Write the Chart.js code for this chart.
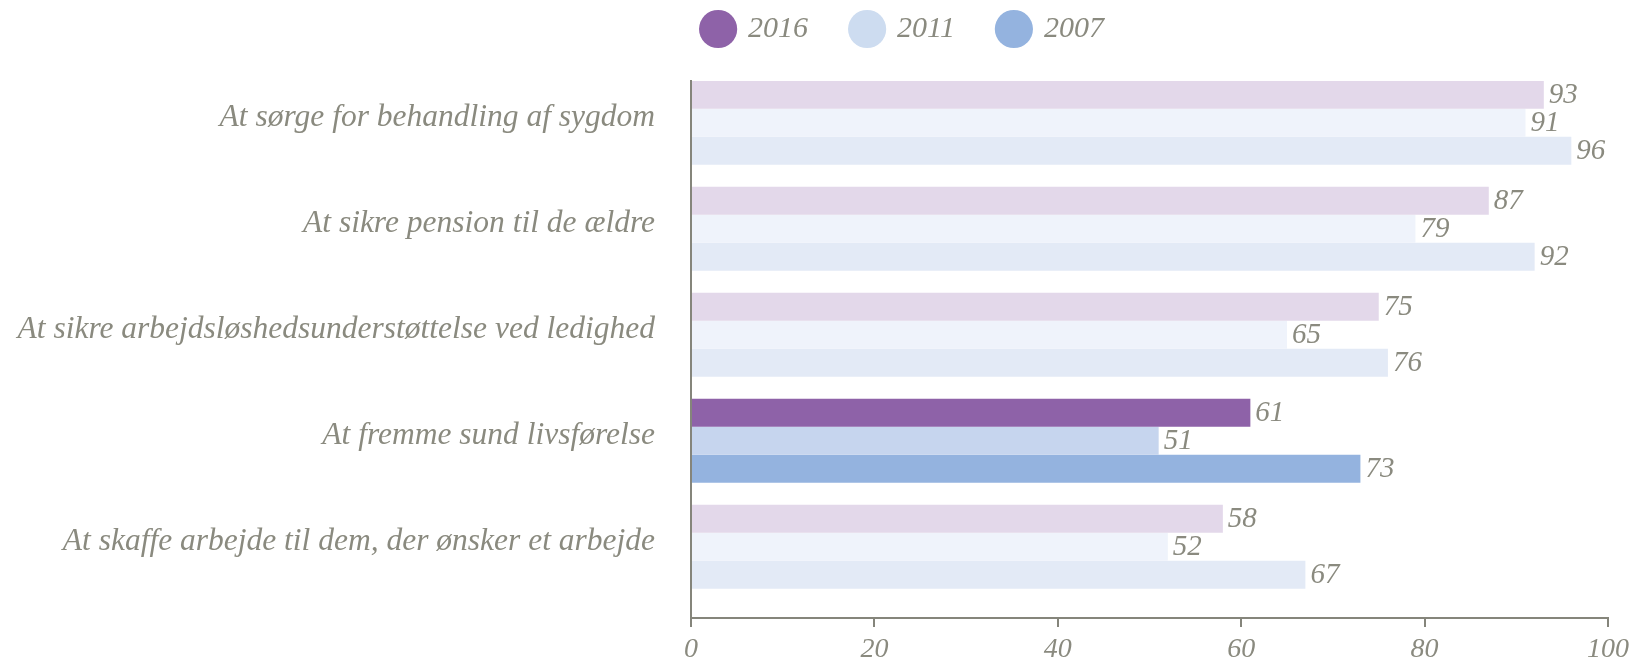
<!DOCTYPE html>
<html>
<head>
<meta charset="utf-8">
<script src="https://cdn.jsdelivr.net/npm/chart.js@4.4.1/dist/chart.umd.min.js"></script>
<style>
  html, body { margin: 0; padding: 0; background: #fff; }
  #wrap { width: 1631px; height: 662px; position: relative; }
</style>
</head>
<body>
<div id="wrap"><canvas id="chart"></canvas></div>
<script>
const categories = [
  'At sørge for behandling af sygdom',
  'At sikre pension til de ældre',
  'At sikre arbejdsløshedsunderstøttelse ved ledighed',
  'At fremme sund livsførelse',
  'At skaffe arbejde til dem, der ønsker et arbejde'
];
const years = ['2016', '2011', '2007'];
const values2016 = [93, 87, 75, 61, 58];
const values2011 = [91, 79, 65, 51, 52];
const values2007 = [96, 92, 76, 73, 67];
const xTicks = [0, 20, 40, 60, 80, 100];
const highlight = 3; // 'At fremme sund livsførelse'

const fullColors = ['#8e62a8', '#c6d5ee', '#94b3df'];
const fadedColors = ['#e3d8ea', '#eff3fb', '#e3eaf6'];
const legendColors = ['#8e62a8', '#cddcf0', '#94b3df'];
const textColor = '#8a8a7f';
const axisColor = '#85857b';
const fontFamily = '"Liberation Serif", "DejaVu Serif", serif';
const yMin = -0.393, yMax = 4.671;

function makeDataset(k, values) {
  return {
    label: years[k],
    data: values.map((v, i) => ({ x: v, y: i })),
    backgroundColor: values.map((v, i) => i === highlight ? fullColors[k] : fadedColors[k]),
    borderWidth: 0,
    categoryPercentage: 0.792,
    barPercentage: 1
  };
}

// value labels at the end of each bar
const valueLabels = {
  id: 'valueLabels',
  afterDatasetsDraw(chart) {
    const ctx = chart.ctx;
    ctx.save();
    ctx.font = 'italic 29px ' + fontFamily;
    ctx.fillStyle = textColor;
    ctx.textAlign = 'left';
    ctx.textBaseline = 'middle';
    chart.data.datasets.forEach((ds, di) => {
      chart.getDatasetMeta(di).data.forEach((bar, i) => {
        ctx.fillText(ds.data[i].x, bar.x + 5, bar.y + 1);
      });
    });
    ctx.restore();
  }
};

// legend sits above the bars, a bit right of the page centre
const legendFix = {
  id: 'legendFix',
  beforeInit(chart) {
    const fit = chart.legend.fit;
    chart.legend.fit = function () {
      fit.call(this);
      this.height = 81;
    };
  },
  afterLayout(chart) {
    const l = chart.legend;
    l.left += 97;
    l.right += 97;
    l.top += 29 - 44 - 15;
  }
};

const config = {
  type: 'bar',
  data: {
    datasets: [
      makeDataset(0, values2016),
      makeDataset(1, values2011),
      makeDataset(2, values2007)
    ]
  },
  options: {
    indexAxis: 'y',
    responsive: true,
    maintainAspectRatio: false,
    animation: false,
    layout: { padding: { left: 0, right: 18, top: 0, bottom: 0 } },
    scales: {
      x: {
        type: 'linear',
        min: 0,
        max: 100,
        afterBuildTicks: s => { s.ticks = xTicks.map(v => ({ value: v })); },
        afterFit: s => { s.height = 44; s.paddingRight = 23; },
        ticks: {
          color: textColor,
          font: { family: fontFamily, size: 28, style: 'italic' },
          padding: 6
        },
        grid: {
          drawOnChartArea: false,
          drawTicks: true,
          tickLength: 9,
          color: axisColor,
          lineWidth: 2
        },
        border: { display: true, color: axisColor, width: 2 }
      },
      y: {
        type: 'linear',
        reverse: true,
        offset: false,
        bounds: 'data',
        min: yMin,
        max: yMax,
        afterDataLimits: s => { s.min = yMin; s.max = yMax; },
        afterBuildTicks: s => { s.ticks = categories.map((c, i) => ({ value: i })); },
        afterFit: s => { s.width = 691; s.paddingTop = 0; s.paddingBottom = 0; },
        ticks: {
          callback: v => categories[v],
          color: textColor,
          font: { family: fontFamily, size: 31.5, style: 'italic' },
          padding: 36,
          labelOffset: -5
        },
        grid: { display: false, drawTicks: false, offset: false },
        border: { display: true, color: axisColor, width: 2 }
      }
    },
    plugins: {
      legend: {
        position: 'top',
        labels: {
          usePointStyle: true,
          pointStyle: 'circle',
          color: textColor,
          font: { family: fontFamily, size: 30, style: 'italic' },
          boxHeight: 27,
          padding: 44,
          generateLabels: chart => Chart.defaults.plugins.legend.labels.generateLabels(chart).map((l, i) => ({
            ...l,
            fillStyle: legendColors[i],
            strokeStyle: legendColors[i],
            lineWidth: 0
          }))
        }
      },
      tooltip: { enabled: false }
    }
  },
  plugins: [valueLabels, legendFix]
};

var ctx = document.getElementById('chart').getContext('2d');
var chart = new Chart(ctx, config);
</script>
</body>
</html>
